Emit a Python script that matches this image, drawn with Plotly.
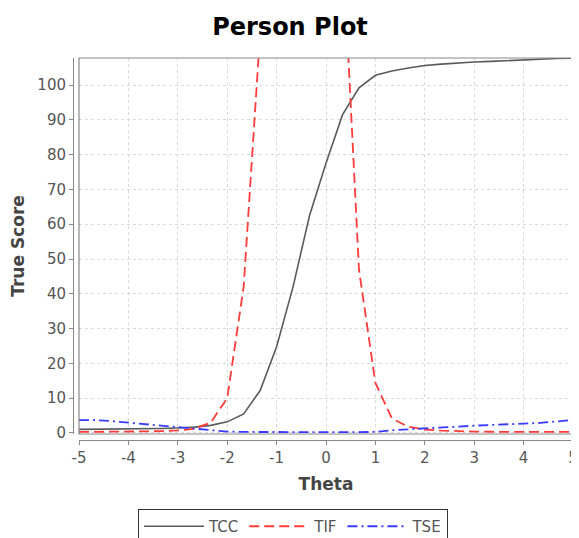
import plotly.graph_objects as go

theta = [-5.0, -4.667, -4.333, -4.0, -3.667, -3.333, -3.0, -2.667, -2.333, -2.0,
         -1.667, -1.333, -1.0, -0.667, -0.333, 0.0, 0.333, 0.667, 1.0, 1.333,
         1.667, 2.0, 2.333, 2.667, 3.0, 3.333, 3.667, 4.0, 4.333, 4.667, 5.0]

tcc = [1.05, 1.07, 1.1, 1.15, 1.2, 1.3, 1.45, 1.7, 2.2, 3.2,
       5.5, 12.2, 24.8, 42.0, 62.5, 77.5, 91.4, 99.2, 102.8, 104.0,
       104.9, 105.6, 106.0, 106.4, 106.6, 106.8, 107.0, 107.4, 107.5, 107.6, 107.7]

tif = [0.3, 0.3, 0.35, 0.4, 0.45, 0.55, 0.75, 1.2, 3.0, 10.0,
       42.0, 115.0, 190.0, 240.0, 255.0, 230.0, 142.0, 47.0, 14.4, 4.2,
       1.8, 1.0, 0.7, 0.5, 0.4, 0.35, 0.3, 0.3, 0.3, 0.3, 0.3]

tse = [3.7, 3.7, 3.4, 3.0, 2.6, 2.2, 1.8, 1.3, 0.8, 0.4,
       0.3, 0.25, 0.25, 0.25, 0.25, 0.25, 0.25, 0.25, 0.3, 0.8,
       1.1, 1.35, 1.6, 1.85, 2.1, 2.3, 2.45, 2.6, 2.9, 3.3, 3.8]

x_ticks = [-5, -4, -3, -2, -1, 0, 1, 2, 3, 4, 5]
x_labels = ["-5", "-4", "-3", "-2", "-1", "0", "1", "2", "3", "4", "5"]
y_ticks = [0, 10, 20, 30, 40, 50, 60, 70, 80, 90, 100]
y_labels = ["0", "10", "20", "30", "40", "50", "60", "70", "80", "90", "100"]

FONT = "DejaVu Sans, Verdana, sans-serif"

fig = go.Figure()
fig.add_trace(go.Scatter(x=theta, y=tcc, mode="lines", name="TCC",
                         line=dict(color="#5a5a5a", width=1.6)))
fig.add_trace(go.Scatter(x=theta, y=tif, mode="lines", name="TIF",
                         line=dict(color="#ff3b3b", width=1.8, dash="10px,5px")))
fig.add_trace(go.Scatter(x=theta, y=tse, mode="lines", name="TSE",
                         line=dict(color="#3a3aff", width=1.8, dash="10px,4px,2px,4px")))

# page has an 8px body margin; figure is sized/positioned to compensate
W, H = 571, 530
L, R, T, B = 65, 6, 50, 98
pw, ph = W - L - R, H - T - B
xd0 = 6 / pw
yd0 = 6 / ph

fig.update_layout(
    width=W, height=H,
    margin=dict(l=L, r=R, t=T, b=B, autoexpand=False),
    paper_bgcolor="white", plot_bgcolor="white",
    font=dict(family=FONT, size=15, color="#444"),
    title=dict(text="Person Plot", x=282 / W, xref="container", xanchor="center",
               y=1 - 19 / H, yref="container", yanchor="middle",
               font=dict(family=FONT, size=24, color="#000", weight="bold")),
    xaxis=dict(domain=[xd0, 1], anchor="free", position=0, automargin=False,
               range=[-5, 5], tickmode="array", tickvals=x_ticks, ticktext=x_labels,
               ticks="outside", ticklen=4, tickcolor="#888",
               showline=True, linecolor="#888", linewidth=1,
               showgrid=True, gridcolor="#d9d9d9", griddash="dot", gridwidth=1,
               zeroline=False, tickfont=dict(size=15, color="#555"),
               title=dict(text="Theta", standoff=12,
                          font=dict(size=17, color="#444", weight="bold"))),
    yaxis=dict(domain=[yd0, 1], anchor="free", position=0, automargin=False,
               range=[-0.29, 107.76], tickmode="array", tickvals=y_ticks, ticktext=y_labels,
               ticks="outside", ticklen=4, tickcolor="#888",
               showline=True, linecolor="#888", linewidth=1,
               showgrid=True, gridcolor="#d9d9d9", griddash="dot", gridwidth=1,
               zeroline=False, tickfont=dict(size=15, color="#555"),
               title=dict(text="True Score", standoff=8,
                          font=dict(size=17, color="#444", weight="bold"))),
    legend=dict(orientation="h", x=285 / W, xref="container", xanchor="center",
                y=1 - 501 / H, yref="container", yanchor="top",
                bordercolor="#333", borderwidth=1, bgcolor="white",
                itemwidth=60, font=dict(size=15, color="#555")),
    shapes=[dict(type="rect", xref="paper", yref="paper",
                 x0=xd0, x1=1, y0=yd0, y1=1,
                 line=dict(color="#888", width=1.2), layer="above")],
)

fig.write_html("out.html")
